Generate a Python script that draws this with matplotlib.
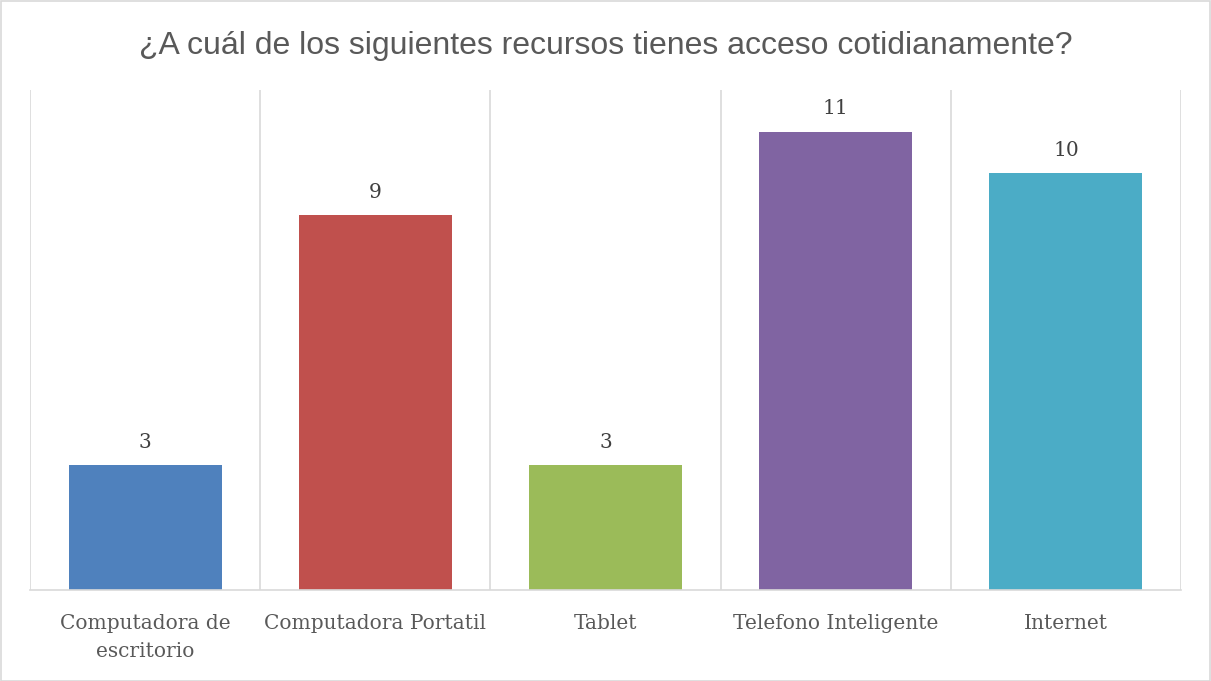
import matplotlib.pyplot as plt
from matplotlib.patches import Rectangle
import numpy as np

# datos
categorias = ['Computadora de\nescritorio', 'Computadora Portatil', 'Tablet',
              'Telefono Inteligente', 'Internet']
valores = [3, 9, 3, 11, 10]
colores = ['#4F81BD', '#C0504D', '#9BBB59', '#8064A2', '#4BACC6']
titulo = '¿A cuál de los siguientes recursos tienes acceso cotidianamente?'

W, H = 1211, 681
fig = plt.figure(figsize=(W / 100, H / 100), dpi=100)
ax = fig.add_axes([30 / W, (H - 590) / H, (1181 - 30) / W, (590 - 90) / H])

x = np.arange(len(valores))
ax.bar(x, valores, width=0.665, color=colores, zorder=2)
ax.set_xlim(-0.5, len(valores) - 0.5)
ax.set_ylim(0, 12)

# lineas verticales entre categorias
for b in np.arange(-0.5, len(valores), 1.0):
    ax.axvline(b, color='#d9d9d9', linewidth=1.2, zorder=1)

for xi, v in zip(x, valores):
    ax.annotate(str(v), (xi, v), xytext=(0, 9.5), textcoords='offset points',
                ha='center', va='bottom', fontsize=14.5,
                family='DejaVu Serif', color='#404040')

ax.set_xticks(x)
ax.set_xticklabels(categorias, family='DejaVu Serif', fontsize=14.5,
                   color='#595959', linespacing=1.65)
ax.tick_params(axis='x', length=0, pad=17)
ax.set_yticks([])
for s in ['top', 'left', 'right']:
    ax.spines[s].set_visible(False)
ax.spines['bottom'].set_color('#d9d9d9')
ax.spines['bottom'].set_linewidth(1.2)

fig.text(0.5, 1 - 46 / H, titulo, ha='center', va='center', fontsize=23,
         family='Liberation Sans', color='#595959')

# borde del grafico
fig.patches.append(Rectangle((0.5 / W, 0.5 / H), 1 - 1.5 / W, 1 - 1.5 / H,
                             transform=fig.transFigure, fill=False,
                             edgecolor='#d9d9d9', linewidth=1.2))

plt.savefig('out.png', dpi=100)
